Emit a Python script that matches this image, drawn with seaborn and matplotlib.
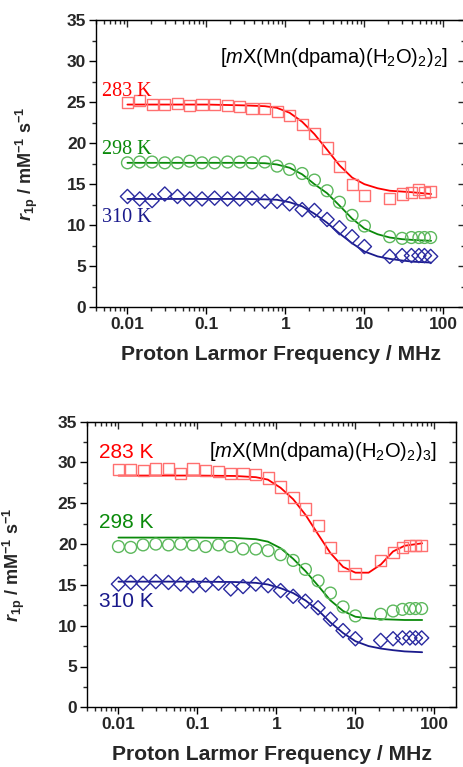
import numpy as np
import pandas as pd
import matplotlib
matplotlib.use("Agg")
import matplotlib.pyplot as plt
from matplotlib.ticker import FixedLocator, LogLocator, NullFormatter, MultipleLocator
import seaborn as sns

sns.set_style("ticks")
plt.rcParams['font.family'] = ['Liberation Sans', 'DejaVu Sans']
plt.rcParams['mathtext.fontset'] = 'custom'
plt.rcParams['mathtext.rm'] = 'Liberation Sans'
plt.rcParams['mathtext.it'] = 'Liberation Sans:italic'
plt.rcParams['mathtext.bf'] = 'Liberation Sans:bold'
plt.rcParams['mathtext.bfit'] = 'Liberation Sans:italic:bold'

# ---------------- data ----------------
freq = [0.01, 0.0143, 0.0205, 0.0297, 0.043, 0.0615, 0.088, 0.127, 0.185, 0.264,
        0.378, 0.548, 0.785, 1.13, 1.63, 2.33, 3.37, 4.83, 6.98, 10.0,
        20.9, 30.0, 39.4, 49.0, 57.6, 69.0]

# top panel: [mX(Mn(dpama)(H2O)2)2]
top_283 = [24.9, 25.2, 24.7, 24.7, 24.8, 24.6, 24.7, 24.7, 24.6, 24.5,
           24.2, 24.2, 23.8, 23.4, 22.3, 21.2, 19.4, 17.1, 15.0, 13.6,
           13.3, 13.8, 14.0, 14.3, 14.0, 14.1]
top_298 = [17.6, 17.7, 17.7, 17.6, 17.6, 17.8, 17.6, 17.6, 17.7, 17.7,
           17.6, 17.7, 17.2, 16.8, 16.3, 15.5, 14.2, 12.8, 11.2, 9.9,
           8.6, 8.4, 8.5, 8.5, 8.5, 8.5]
top_310 = [13.5, 13.2, 13.0, 13.8, 13.5, 13.2, 13.2, 13.3, 13.2, 13.2,
           13.3, 12.9, 12.9, 12.6, 11.9, 11.8, 10.7, 9.7, 8.6, 7.4,
           6.2, 6.3, 6.3, 6.3, 6.3, 6.2]

# bottom panel: [mX(Mn(dpama)(H2O)2)3]
bot_283 = [29.1, 29.1, 29.0, 29.2, 29.3, 28.6, 29.2, 29.0, 28.9, 28.7,
           28.7, 28.5, 28.1, 27.0, 25.7, 24.3, 22.3, 19.6, 17.4, 16.4,
           18.0, 19.0, 19.6, 19.8, 19.8, 19.8]
bot_298 = [19.7, 19.6, 19.9, 20.0, 19.9, 20.0, 19.9, 19.7, 19.9, 19.7,
           19.4, 19.4, 19.2, 18.7, 18.0, 16.9, 15.5, 14.0, 12.3, 11.2,
           11.4, 11.8, 12.0, 12.1, 12.1, 12.1]
bot_310 = [15.1, 15.3, 15.2, 15.4, 15.3, 15.1, 14.9, 15.0, 15.2, 14.5,
           14.8, 15.1, 14.9, 14.3, 13.6, 13.0, 12.2, 10.8, 9.4, 8.4,
           8.2, 8.4, 8.5, 8.5, 8.5, 8.5]

# fitted curves
fit_freq = [0.01, 0.1, 0.3, 0.55, 0.78, 1.13, 1.63, 2.33, 3.37, 4.83,
            7.0, 10.0, 14.7, 21.0, 30.0, 42.0, 70.0]
fit_top_283 = [24.7, 24.7, 24.6, 24.5, 24.3, 23.7, 22.6, 21.1, 19.2, 17.3,
               15.8, 15.0, 14.5, 14.2, 14.1, 14.0, 13.8]
fit_top_298 = [17.6, 17.6, 17.6, 17.55, 17.4, 17.0, 16.2, 15.0, 13.9, 12.4,
               10.8, 9.6, 8.9, 8.5, 8.3, 8.2, 8.1]
fit_top_310 = [13.2, 13.2, 13.2, 13.15, 13.1, 12.8, 12.3, 11.4, 10.3, 9.0,
               7.8, 6.8, 6.2, 5.9, 5.7, 5.55, 5.45]
fit_bot_283 = [28.4, 28.4, 28.35, 28.2, 27.9, 26.9, 25.5, 23.6, 21.2, 18.9,
               17.2, 16.5, 16.5, 17.5, 19.1, 19.8, 20.1]
fit_bot_298 = [20.8, 20.8, 20.75, 20.6, 20.3, 19.5, 18.2, 16.7, 14.9, 13.1,
               11.8, 11.1, 10.9, 10.8, 10.75, 10.7, 10.7]
fit_bot_310 = [15.4, 15.4, 15.35, 15.25, 15.05, 14.6, 14.0, 13.1, 11.9, 10.4,
               9.1, 8.1, 7.5, 7.2, 7.0, 6.85, 6.75]

temps = ["283 K", "298 K", "310 K"]
line_colors = ["#ff0000", "#0a8a0a", "#1a1a8c"]
marker_colors = ["#ff7070", "#5cb85c", "#2a2aa0"]
markers = ["s", "o", "D"]
marker_sizes = [64, 72, 52]

x_ticks = [0.01, 0.1, 1, 10, 100]
x_ticklabels = ["0.01", "0.1", "1", "10", "100"]
y_ticks = [0, 5, 10, 15, 20, 25, 30, 35]

XLIM = (0.004, 190)
YLIM = (0, 35)

W, H = 464, 767
fig = plt.figure(figsize=(W / 100, H / 100), dpi=100)

ax_top = fig.add_axes([96 / W, 1 - 307.3 / H, 369.4 / W, 287.3 / H])
ax_bot = fig.add_axes([87 / W, 1 - 707.3 / H, 369.4 / W, 285.6 / H])

panels = [
    (ax_top, [top_283, top_298, top_310], [fit_top_283, fit_top_298, fit_top_310],
     r"$[\mathit{m}\mathrm{X(Mn(dpama)(H_2O)_2)_2}]$",
     dict(family=['Liberation Serif', 'DejaVu Serif'], size=14.5),
     [(0.0048, 25.7), (0.0048, 18.7), (0.0048, 10.4)], (448 - 96) / 369.4, 63, 40),
    (ax_bot, [bot_283, bot_298, bot_310], [fit_bot_283, fit_bot_298, fit_bot_310],
     r"$[\mathit{m}\mathrm{X(Mn(dpama)(H_2O)_2)_3}]$",
     dict(family=['Liberation Sans', 'DejaVu Sans'], size=15),
     [(0.0056, 30.6), (0.0056, 22.0), (0.0056, 12.3)], (437 - 87) / 369.4, 457, 27),
]

for ax, series, fits, title, tfont, tpos, ann_x, ann_y_px, ylab_x in panels:
    for i in range(3):
        sns.lineplot(x=fit_freq, y=fits[i], ax=ax, color=line_colors[i], lw=1.3,
                     zorder=2)
        sns.scatterplot(x=freq, y=series[i], ax=ax, marker=markers[i],
                        s=marker_sizes[i], fc="none", ec=marker_colors[i],
                        linewidth=1.0, zorder=3)
        ax.text(tpos[i][0], tpos[i][1], temps[i], color=line_colors[i],
                ha="left", va="baseline", **tfont)
    ax.set_xscale("log")
    ax.set_xlim(*XLIM)
    ax.set_ylim(*YLIM)
    ax.xaxis.set_major_locator(FixedLocator(x_ticks))
    ax.set_xticklabels(x_ticklabels)
    ax.xaxis.set_minor_locator(LogLocator(base=10, subs=np.arange(2, 10), numticks=20))
    ax.xaxis.set_minor_formatter(NullFormatter())
    ax.yaxis.set_major_locator(FixedLocator(y_ticks))
    ax.yaxis.set_minor_locator(MultipleLocator(2.5))
    ax.tick_params(axis="both", which="major", direction="out", length=5, width=1,
                   labelsize=12.5, pad=2, color="black")
    ax.tick_params(axis="both", which="minor", direction="out", length=2.8, width=1)
    for lbl in ax.get_xticklabels() + ax.get_yticklabels():
        lbl.set_fontweight("bold")
    for sp in ax.spines.values():
        sp.set_visible(True)
        sp.set_linewidth(1.0)
        sp.set_color("black")
    # mirrored inward ticks on top and right
    sec_x = ax.secondary_xaxis("top")
    sec_x.set_xscale("log")
    sec_x.xaxis.set_major_locator(FixedLocator(x_ticks))
    sec_x.xaxis.set_minor_locator(LogLocator(base=10, subs=np.arange(2, 10), numticks=20))
    sec_x.xaxis.set_major_formatter(NullFormatter())
    sec_x.xaxis.set_minor_formatter(NullFormatter())
    sec_x.tick_params(which="major", direction="in", length=5, width=1)
    sec_x.tick_params(which="minor", direction="in", length=2.8, width=1)
    sec_y = ax.secondary_yaxis("right")
    sec_y.yaxis.set_major_locator(FixedLocator(y_ticks))
    sec_y.yaxis.set_minor_locator(MultipleLocator(2.5))
    sec_y.yaxis.set_major_formatter(NullFormatter())
    sec_y.tick_params(which="major", direction="in", length=5, width=1)
    sec_y.tick_params(which="minor", direction="in", length=2.8, width=1)

    ax.set_xlabel("Proton Larmor Frequency / MHz", fontsize=15.2, fontweight="bold",
                  labelpad=9)
    ax.set_ylabel(r"$\mathbfit{r}_{\mathbf{1p}}\mathbf{\ /\ mM^{-1}\ s^{-1}}$",
                  fontsize=13)
    bbox = ax.get_position()
    ax.yaxis.set_label_coords((ylab_x / W - bbox.x0) / bbox.width, 0.5)
    # annotation (right-aligned)
    ann_y = 1 - (ann_y_px / H - (1 - bbox.y1)) / bbox.height
    ax.text(ann_x, ann_y, title, transform=ax.transAxes, ha="right", va="baseline",
            fontsize=14.5, color="black")

fig.savefig("out.png", dpi=100)
